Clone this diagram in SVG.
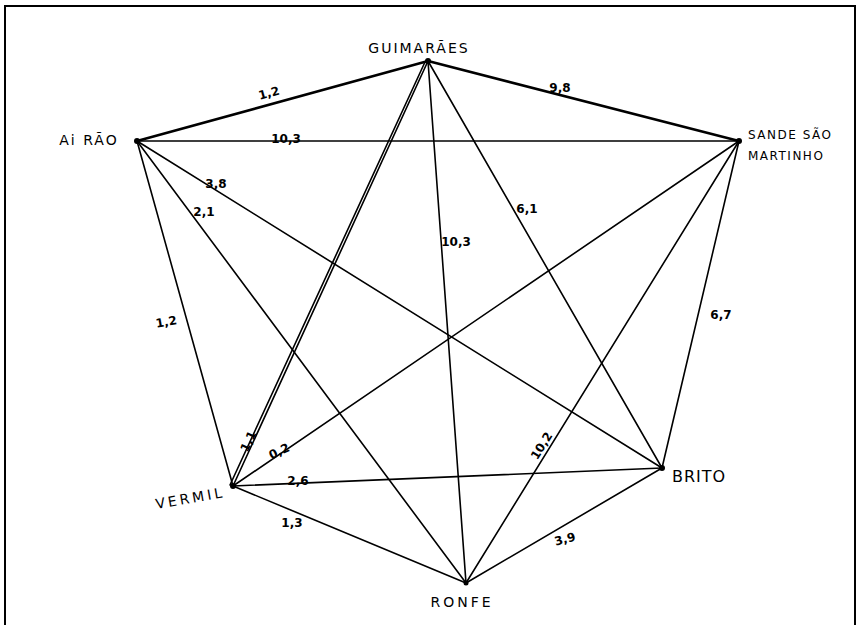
<svg xmlns="http://www.w3.org/2000/svg" width="862" height="625" viewBox="0 0 862 625">
<style>
.e{stroke:#000;stroke-width:1.6;fill:none;stroke-linecap:round}
.t{stroke-width:2.6}
.n{font-family:"DejaVu Sans",sans-serif;font-size:14px;fill:#000;letter-spacing:2px}
.w{font-family:"DejaVu Sans",sans-serif;font-size:12px;fill:#000;font-weight:bold}
</style>
<rect x="0" y="0" width="862" height="625" fill="#fff"/>
<path d="M5,640 V6 H855 V640" stroke="#000" stroke-width="2" fill="none"/>
<g id="connectors">
<line class="e t" x1="137" y1="141" x2="428" y2="61"/>
<line class="e" x1="137" y1="141" x2="739" y2="141"/>
<line class="e" x1="137" y1="141" x2="662" y2="468"/>
<line class="e" x1="137" y1="141" x2="466" y2="583"/>
<line class="e" x1="137" y1="141" x2="233" y2="486"/>
<line class="e t" x1="428" y1="61" x2="739" y2="141"/>
<line class="e" x1="428" y1="61" x2="466" y2="583"/>
<line class="e" x1="428" y1="61" x2="662" y2="468"/>
<line class="e" x1="428" y1="61" x2="233" y2="486"/>
<line class="e" x1="425" y1="62" x2="230" y2="485"/>
<line class="e" x1="739" y1="141" x2="662" y2="468"/>
<line class="e" x1="739" y1="141" x2="233" y2="486"/>
<line class="e" x1="739" y1="141" x2="466" y2="583"/>
<line class="e" x1="233" y1="486" x2="662" y2="468"/>
<line class="e" x1="233" y1="486" x2="466" y2="583"/>
<line class="e" x1="466" y1="583" x2="662" y2="468"/>
<text class="w" transform="translate(270,97) rotate(-15)" text-anchor="middle">1,2</text>
<text class="w" x="286" y="143" text-anchor="middle">10,3</text>
<text class="w" x="560" y="92" text-anchor="middle">9,8</text>
<text class="w" x="216" y="188" text-anchor="middle">3,8</text>
<text class="w" x="204" y="216" text-anchor="middle">2,1</text>
<text class="w" transform="translate(167,326) rotate(-10)" text-anchor="middle">1,2</text>
<text class="w" x="456" y="246" text-anchor="middle">10,3</text>
<text class="w" x="527" y="213" text-anchor="middle">6,1</text>
<text class="w" x="721" y="319" text-anchor="middle">6,7</text>
<text class="w" transform="translate(252,443) rotate(-65)" text-anchor="middle">1,1</text>
<text class="w" transform="translate(281,455) rotate(-25)" text-anchor="middle">0,2</text>
<text class="w" x="298" y="485" text-anchor="middle">2,6</text>
<text class="w" x="292" y="527" text-anchor="middle">1,3</text>
<text class="w" transform="translate(545,448) rotate(-58)" text-anchor="middle">10,2</text>
<text class="w" transform="translate(566,543) rotate(-15)" text-anchor="middle">3,9</text>
</g>
<g id="guimaraes"><circle cx="428" cy="61" r="3"/><text class="n" x="419" y="53" text-anchor="middle">GUIMARÃES</text></g>
<g id="airao"><circle cx="137" cy="141" r="3"/><text class="n" x="89" y="145" text-anchor="middle">Ai RÃO</text></g>
<g id="sande"><circle cx="739" cy="141" r="3"/><text class="n" x="748" y="139" style="font-size:12px;letter-spacing:1.5px">SANDE SÃO</text><text class="n" x="748" y="160" style="font-size:12px;letter-spacing:1.5px">MARTINHO</text></g>
<g id="brito"><circle cx="662" cy="468" r="3"/><text class="n" x="672" y="482" style="font-size:16px;letter-spacing:1px">BRITO</text></g>
<g id="ronfe"><circle cx="466" cy="583" r="2.5"/><text class="n" x="462" y="607" text-anchor="middle" style="letter-spacing:3px">RONFE</text></g>
<g id="vermil"><circle cx="233" cy="486" r="3"/><text class="n" transform="translate(191,503) rotate(-10)" text-anchor="middle" style="letter-spacing:3px">VERMIL</text></g>
</svg>
